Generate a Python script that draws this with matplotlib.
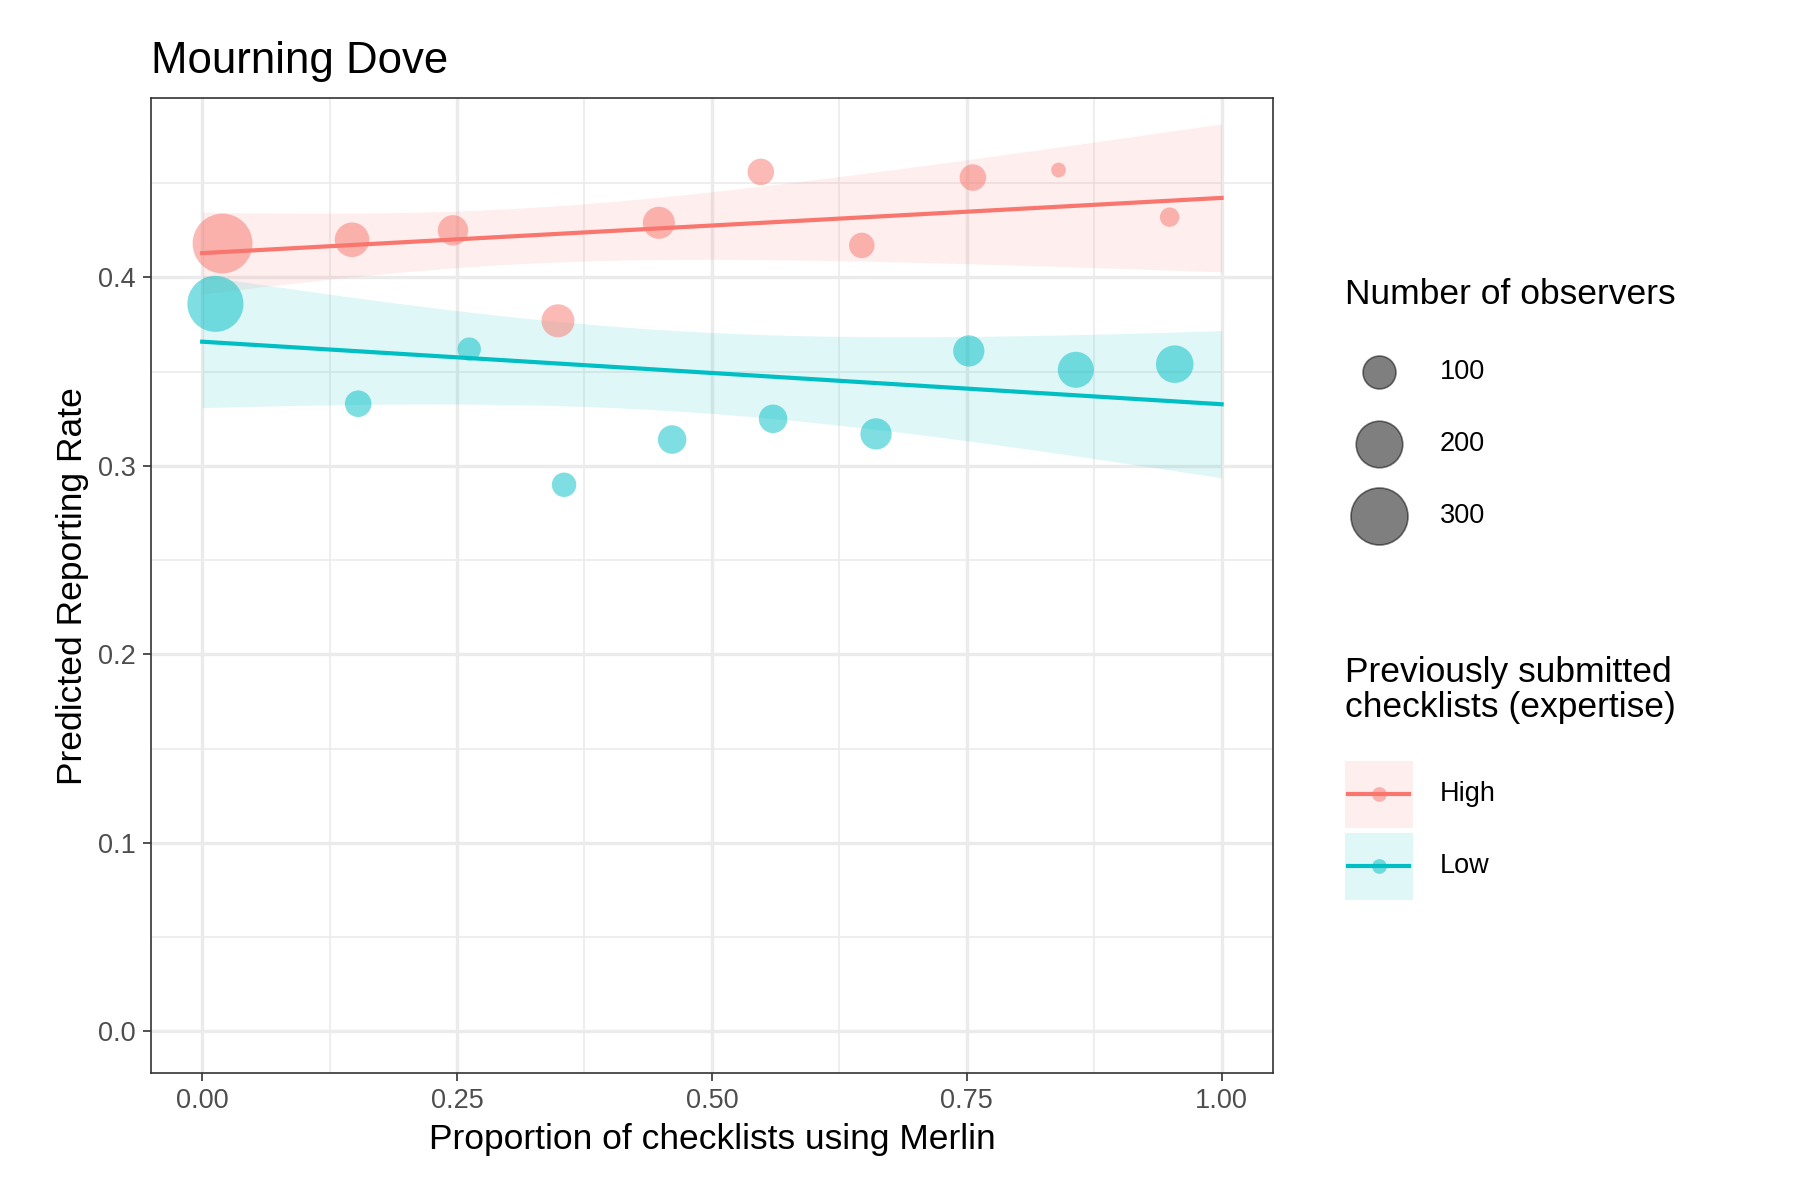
import matplotlib.pyplot as plt
import numpy as np

plt.rcParams['font.family'] = ['Liberation Sans', 'DejaVu Sans']

# data
high_x = [0.020, 0.147, 0.246, 0.349, 0.448, 0.548, 0.647, 0.756, 0.840, 0.949]
high_y = [0.418, 0.420, 0.425, 0.377, 0.429, 0.456, 0.417, 0.453, 0.457, 0.432]
high_n = [330, 110, 85, 100, 95, 65, 60, 65, 20, 35]
low_x = [0.013, 0.153, 0.262, 0.355, 0.461, 0.560, 0.661, 0.752, 0.857, 0.954]
low_y = [0.386, 0.333, 0.362, 0.290, 0.314, 0.325, 0.317, 0.361, 0.351, 0.354]
low_n = [290, 65, 50, 55, 75, 75, 90, 90, 120, 130]
size_breaks = [100, 200, 300]

RED, TEAL = '#F8766D', '#00BFC4'
K = 2.5  # marker area per observer

fig = plt.figure(figsize=(12, 8), dpi=150)
ax = fig.add_axes([0.084, 0.106, 0.623, 0.812])

def fit_band(x, y, w):
    x = np.asarray(x); y = np.asarray(y); w = np.asarray(w, float)
    xm = np.sum(w * x) / w.sum()
    ym = np.sum(w * y) / w.sum()
    sxx = np.sum(w * (x - xm) ** 2)
    b = np.sum(w * (x - xm) * (y - ym)) / sxx
    a = ym - b * xm
    xs = np.linspace(0, 1, 100)
    s2 = np.sum(w * (y - a - b * x) ** 2) / (len(x) - 2)
    se = np.sqrt(s2 * (1 / w.sum() + (xs - xm) ** 2 / sxx))
    return xs, a + b * xs, 2.306 * se

for x, y, n, c in [(high_x, high_y, high_n, RED), (low_x, low_y, low_n, TEAL)]:
    xs, fit, ci = fit_band(x, y, n)
    ax.fill_between(xs, fit - ci, fit + ci, color=c, alpha=0.12, lw=0, zorder=2)
    ax.plot(xs, fit, color=c, lw=2, zorder=3)
    ax.scatter(x, y, s=np.array(n) * K, color=c, alpha=0.5, lw=0, zorder=4)

ax.set_xlim(-0.05, 1.05)
ax.set_ylim(-0.022, 0.495)
ax.set_xticks([0, 0.25, 0.5, 0.75, 1.0])
ax.set_xticklabels(['0.00', '0.25', '0.50', '0.75', '1.00'])
ax.set_yticks([0, 0.1, 0.2, 0.3, 0.4])
ax.set_xticks(np.arange(0.125, 1, 0.25), minor=True)
ax.set_yticks(np.arange(0.05, 0.5, 0.1), minor=True)
ax.grid(which='major', color='#EBEBEB', lw=1.6, zorder=0)
ax.grid(which='minor', color='#EBEBEB', lw=0.8, zorder=0)
ax.set_axisbelow(True)
ax.tick_params(which='major', labelsize=13, colors='#4D4D4D', length=4, color='#333333')
ax.tick_params(which='minor', length=0)
for sp in ax.spines.values():
    sp.set_color('#333333')
    sp.set_linewidth(0.8)
ax.set_xlabel('Proportion of checklists using Merlin', fontsize=17)
ax.set_ylabel('Predicted Reporting Rate', fontsize=17)
ax.set_title('Mourning Dove', fontsize=21, loc='left', pad=12)

# legends drawn by hand in figure coordinates
lg = fig.add_axes([0, 0, 1, 1])
lg.set_xlim(0, 1); lg.set_ylim(0, 1); lg.axis('off')
lg.text(0.747, 0.755, 'Number of observers', fontsize=17, va='center')
for i, b in enumerate(size_breaks):
    yy = 0.69 - i * 0.06
    lg.scatter([0.766], [yy], s=b * K, color='black', alpha=0.5, edgecolor='black', lw=0.8)
    lg.text(0.80, yy, str(b), fontsize=13, va='center')
lg.text(0.747, 0.425, 'Previously submitted\nchecklists (expertise)', fontsize=17, va='center', linespacing=1.1)
for i, (lab, c) in enumerate([('High', RED), ('Low', TEAL)]):
    yy = 0.338 - i * 0.06
    lg.add_patch(plt.Rectangle((0.747, yy - 0.028), 0.038, 0.056, color=c, alpha=0.12, lw=0))
    lg.plot([0.749, 0.783], [yy, yy], color=c, lw=2)
    lg.scatter([0.766], [yy], s=50, color=c, alpha=0.5, lw=0)
    lg.text(0.80, yy, lab, fontsize=13, va='center')

fig.savefig('out.png', dpi=150, facecolor='white')
